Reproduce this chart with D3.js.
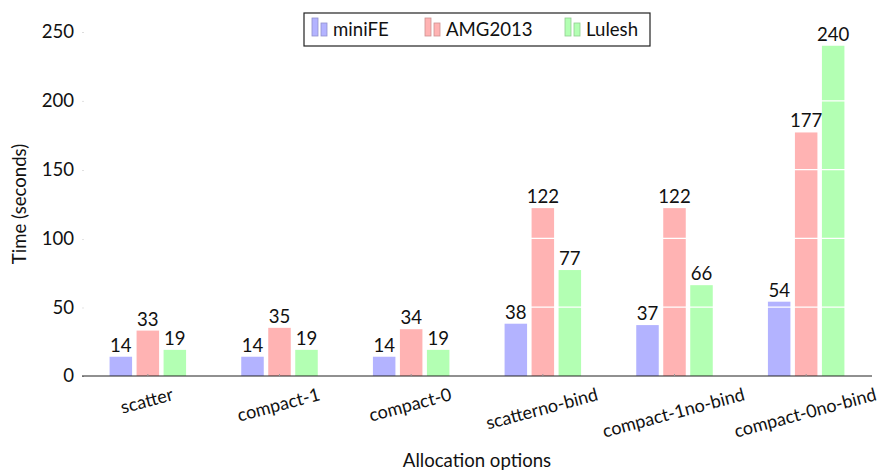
<!DOCTYPE html>
<html>
<head>
<meta charset="utf-8">
<script src="https://cdn.jsdelivr.net/npm/d3@7"></script>
<style>
  body { margin: 0; background: #fff; }
  text { font-family: Lato, "Open Sans", sans-serif; fill: #111; }
</style>
</head>
<body>
<div id="chart"></div>
<script>
var categories = ["scatter", "compact-1", "compact-0", "scatterno-bind", "compact-1no-bind", "compact-0no-bind"];
var seriesNames = ["miniFE", "AMG2013", "Lulesh"];
var miniFE = [14, 14, 14, 38, 37, 54];
var amg2013 = [33, 35, 34, 122, 122, 177];
var lulesh = [19, 19, 19, 77, 66, 240];
var yTicks = [0, 50, 100, 150, 200, 250];
var colors = ["#b3b3ff", "#ffb3b3", "#b3ffb3"];

var svgWidth = 880;
var svgHeight = 473;
var margin = { top: 32, right: 8, bottom: 97, left: 82 };
var width = svgWidth - margin.left - margin.right;
var height = svgHeight - margin.top - margin.bottom;
var fontSize = "18.6px";

var series = [miniFE, amg2013, lulesh];

var svg = d3.select("#chart")
  .append("svg")
  .attr("width", svgWidth)
  .attr("height", svgHeight);

var Group = svg.append("g")
  .attr("transform", `translate(${margin.left}, ${margin.top})`);

// scales
var xScale = d3.scaleBand()
  .domain(categories)
  .range([0, width]);

var yScale = d3.scaleLinear()
  .domain([0, 250])
  .range([height, 0]);

var barWidth = 22.5;
var barStep = 27;
var barX = (i, si) => xScale(categories[i]) + xScale.bandwidth() / 2 + (si - 1) * barStep;

// y ticks (small grey marks)
var yaxis = d3.axisLeft(yScale).tickValues(yTicks).tickSize(2).tickPadding(6);
var yG = Group.append("g").call(yaxis);
yG.select(".domain").remove();
yG.selectAll(".tick line").attr("stroke", "#bbb").attr("transform", "translate(2,0)");
yG.selectAll(".tick text")
  .style("font-size", fontSize)
  .style("font-family", "Lato, sans-serif")
  .attr("fill", "#111");

// bars
series.forEach(function(values, si) {
  Group.selectAll(".bar" + si)
    .data(values)
    .enter()
    .append("rect")
    .attr("x", (d, i) => barX(i, si) - barWidth / 2)
    .attr("y", d => yScale(d))
    .attr("width", barWidth)
    .attr("height", d => height - yScale(d))
    .attr("fill", colors[si]);
});

// white grid lines over bars
Group.selectAll(".grid")
  .data(yTicks.filter(d => d > 0))
  .enter()
  .append("line")
  .attr("x1", 0)
  .attr("x2", width)
  .attr("y1", d => yScale(d))
  .attr("y2", d => yScale(d))
  .attr("stroke", "#fff")
  .attr("stroke-width", 1.2);

// value labels on top of everything
series.forEach(function(values, si) {
  Group.selectAll(".lbl" + si)
    .data(values)
    .enter()
    .append("text")
    .attr("x", (d, i) => barX(i, si))
    .attr("y", d => yScale(d) - 5)
    .style("text-anchor", "middle")
    .style("font-size", fontSize)
    .text(d => d);
});

// x axis
Group.append("line")
  .attr("x1", 0)
  .attr("x2", width)
  .attr("y1", height)
  .attr("y2", height)
  .attr("stroke", "#222")
  .attr("stroke-width", 1.2);

Group.selectAll(".xtick")
  .data(categories)
  .enter()
  .append("line")
  .attr("x1", d => xScale(d) + xScale.bandwidth() / 2)
  .attr("x2", d => xScale(d) + xScale.bandwidth() / 2)
  .attr("y1", height - 2)
  .attr("y2", height)
  .attr("stroke", "#999");

// rotated tick labels: centred on the category, top of rotated box 11px below axis
var angle = 15 * Math.PI / 180;
Group.selectAll(".xlabel")
  .data(categories)
  .enter()
  .append("text")
  .style("text-anchor", "middle")
  .attr("dy", "0.35em")
  .style("font-size", "18px")
  .text(d => d)
  .each(function(d) {
    var L = this.getComputedTextLength();
    var h = 14;
    var cy = height + 11 + (L / 2) * Math.sin(angle) + (h / 2) * Math.cos(angle);
    d3.select(this).attr("transform", `translate(${xScale(d) + xScale.bandwidth() / 2 - 1}, ${cy}) rotate(-15)`);
  });

// axis labels
Group.append("text")
  .attr("transform", "rotate(-90)")
  .attr("x", -height / 2)
  .attr("y", -margin.left + 26)
  .style("text-anchor", "middle")
  .style("font-size", fontSize)
  .text("Time (seconds)");

Group.append("text")
  .attr("x", width / 2)
  .attr("y", height + 91)
  .style("text-anchor", "middle")
  .style("font-size", fontSize)
  .text("Allocation options");

// legend
var legend = svg.append("g").attr("transform", "translate(304, 13)");
legend.append("rect")
  .attr("width", 346)
  .attr("height", 33)
  .attr("fill", "#fff")
  .attr("stroke", "#222")
  .attr("stroke-width", 1.2);

var legendX = [8, 121, 261];
seriesNames.forEach(function(name, i) {
  var g = legend.append("g").attr("transform", `translate(${legendX[i]}, 0)`);
  g.append("rect").attr("x", 0).attr("y", 5).attr("width", 6).attr("height", 18)
    .attr("fill", colors[i]).attr("stroke", d3.color(colors[i]).darker(0.6)).attr("stroke-width", 0.8);
  g.append("rect").attr("x", 9).attr("y", 10).attr("width", 6).attr("height", 13)
    .attr("fill", colors[i]).attr("stroke", d3.color(colors[i]).darker(0.6)).attr("stroke-width", 0.8);
  g.append("text")
    .attr("x", 21)
    .attr("y", 23)
    .style("font-size", fontSize)
    .text(name);
});
</script>
</body>
</html>
